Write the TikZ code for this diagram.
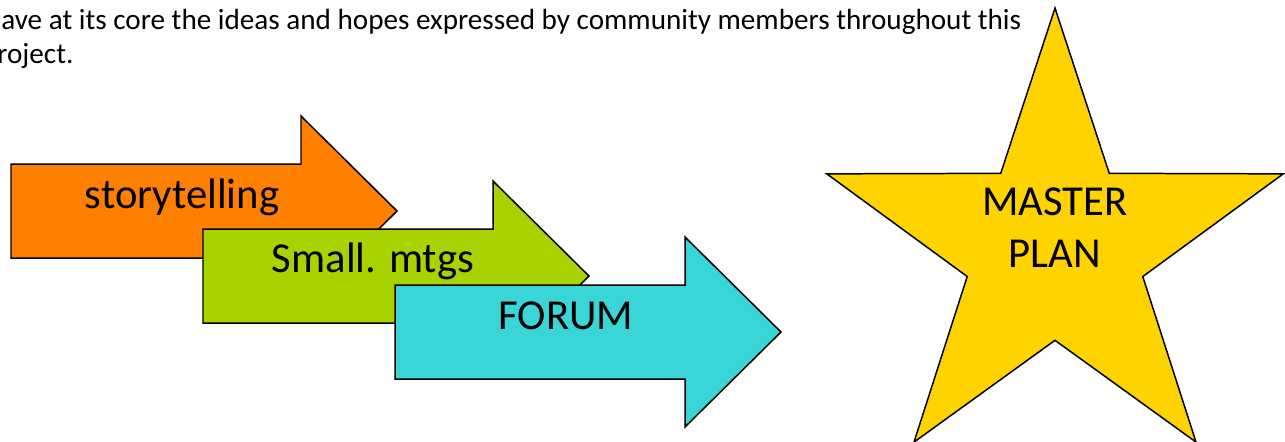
\documentclass[tikz,border=0pt]{standalone}
\usepackage{fontspec}
\setmainfont{Carlito}
\usepackage{xcolor}
\usepackage{tikz}
\usetikzlibrary{shapes, positioning}

\definecolor{naranja}{HTML}{FF7F00}
\definecolor{verde}{HTML}{A8D300}
\definecolor{cian}{HTML}{3AD5D6}
\definecolor{oro}{HTML}{FFD300}

\begin{document}
\begin{tikzpicture}[x=0.02cm, y=-0.02cm,
    flecha/.style={draw=black, line width=0.85pt, line join=miter},
    rotulo/.style={font=\fontsize{24.3}{29}\selectfont, anchor=base, inner sep=0pt},
    parrafo/.style={font=\fontsize{16.6}{20}\selectfont, anchor=base west, inner sep=0pt}]
    \useasboundingbox (0,0) rectangle (1285,441);
    % Texto de arriba (cortado)
    \node[parrafo] (linea1) at (1,29) {ave at its core the ideas and hopes expressed by community members throughout this};
    \node[parrafo] (linea2) at (-3,63) {roject.};
    % Las tres flechas
    \foreach \x/\y/\c in {11/164/naranja, 203/229/verde, 395/285/cian} {
        \draw[flecha, fill=\c] (\x,\y) -- ++(290,0) -- ++(0,-48) -- ++(96,95)
            -- ++(-96,95) -- ++(0,-48) -- ++(-290,0) -- cycle;
    }
    \node[rotulo] (story) at (182,208) {storytelling};
    \node[rotulo] (mtgs) at (373,272) {Small. mtgs};
    \node[rotulo] (forum) at (566,329) {FORUM};
    % Estrella
    \node[star, star points=5, star point ratio=2.6, minimum size=9.6cm, inner sep=0pt,
        draw, line width=0.85pt, fill=oro] (estrella) at (1055,248) {};
    \node[rotulo] (master) at (1055,215) {MASTER};
    \node[rotulo] (plan) at (1055,267) {PLAN};
\end{tikzpicture}
\end{document}
